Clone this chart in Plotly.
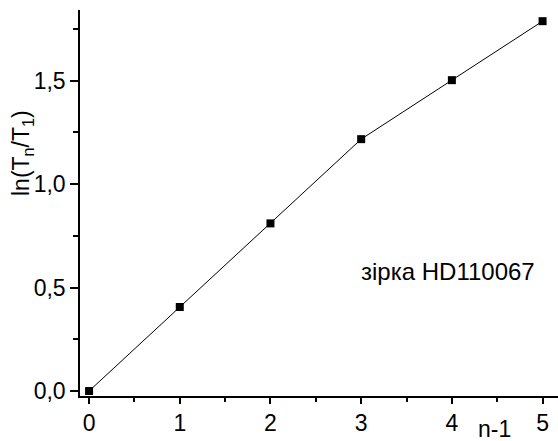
import plotly.graph_objects as go

n_minus_1 = [0, 1, 2, 3, 4, 5]
ln_ratio = [0.0, 0.406, 0.81, 1.217, 1.502, 1.787]
x_ticks = [0, 1, 2, 3, 4, 5]
y_ticks = [0.0, 0.5, 1.0, 1.5]
y_tick_labels = ["0,0", "0,5", "1,0", "1,5"]

W, H = 558, 441
L, R, T, B = 80, 0, 10, 45
PW, PH = W - L - R, H - T - B


def px(x, y):
    return (x - L) / PW, (H - B - y) / PH


fig = go.Figure()
fig.add_trace(go.Scatter(
    x=n_minus_1, y=ln_ratio, mode="lines+markers",
    line=dict(color="black", width=1),
    marker=dict(symbol="square", size=8, color="black"),
    showlegend=False,
))

font = dict(family="Liberation Sans", size=23, color="black")
font_ann = dict(family="Liberation Sans", size=24, color="black")

ax1 = px(494, 429)
ax2 = px(22, 153)
ax3 = px(448, 271)

fig.update_layout(
    width=W, height=H,
    margin=dict(l=L, r=R, t=T, b=B, pad=0),
    paper_bgcolor="white", plot_bgcolor="white",
    font=font,
    xaxis=dict(
        range=[-0.1, 5.17], tickvals=x_ticks, showgrid=False, zeroline=False,
        showline=True, linecolor="black", linewidth=1.5,
        ticks="outside", ticklen=6, tickwidth=1.5, tickcolor="black",
        tickfont=font,
        minor=dict(dtick=0.5, tick0=0, ticks="outside", ticklen=4, tickwidth=1.5, tickcolor="black"),
    ),
    yaxis=dict(
        range=[-0.024, 1.841], tickvals=y_ticks, ticktext=y_tick_labels,
        showgrid=False, zeroline=False,
        showline=True, linecolor="black", linewidth=1.5,
        ticks="outside", ticklen=8, tickwidth=1.5, tickcolor="black",
        tickfont=font,
        minor=dict(dtick=0.25, tick0=0, ticks="outside", ticklen=5, tickwidth=1.5, tickcolor="black"),
    ),
    annotations=[
        dict(text="n-1", x=ax1[0], y=ax1[1], xref="paper", yref="paper",
             xanchor="center", yanchor="middle", showarrow=False, font=font),
        dict(text="ln(T<sub>n</sub>/T<sub>1</sub>)", x=ax2[0], y=ax2[1],
             xref="paper", yref="paper", xanchor="center", yanchor="middle",
             textangle=-90, showarrow=False, font=font),
        dict(text="зірка HD110067", x=ax3[0], y=ax3[1], xref="paper", yref="paper",
             xanchor="center", yanchor="middle", showarrow=False, font=font_ann),
    ],
)

fig.write_html("out.html", config={"displayModeBar": False},
               post_script="document.body.style.margin='0';document.body.style.overflow='hidden';")
